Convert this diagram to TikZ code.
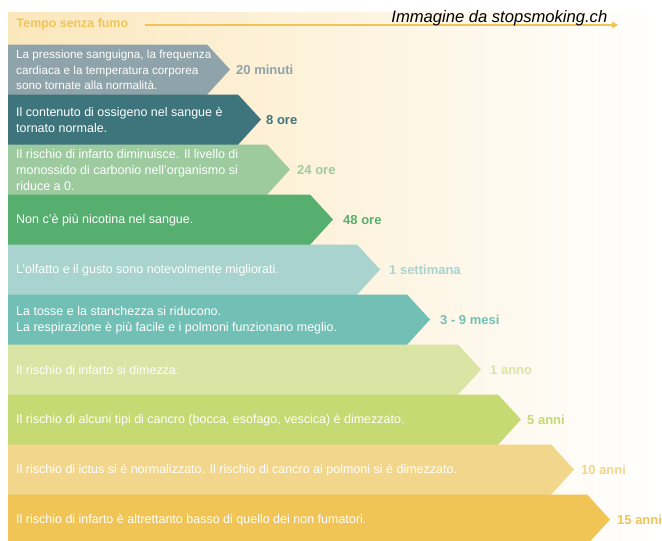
\documentclass[tikz,border=0pt]{standalone}
\usepackage{fontspec}
\setmainfont{Liberation Sans}
\usetikzlibrary{arrows.meta}

% stage colours, from the first minutes to fifteen years
\definecolor{cGray}{HTML}{8FA3AA}
\definecolor{cDeepTeal}{HTML}{3E757C}
\definecolor{cPaleGreen}{HTML}{9DCB9F}
\definecolor{cGreen}{HTML}{56AF6F}
\definecolor{cPaleTeal}{HTML}{A8D3CF}
\definecolor{cTeal}{HTML}{72BFB5}
\definecolor{cPaleLime}{HTML}{D9E4A5}
\definecolor{cLime}{HTML}{C6D973}
\definecolor{cPaleGold}{HTML}{F2D68C}
\definecolor{cGold}{HTML}{F0C455}
\definecolor{cCream}{HTML}{FBE7BC}

% one chevron band: #1 top edge, #2 x where the point starts, #3 colour
\newcommand\chevronband[3]{%
  \fill[#3] (8,#1) -- (#2,#1) -- ({#2+23},{#1+25}) -- (#2,{#1+50.3})
    -- (8,{#1+50.3}) -- cycle;}

\tikzset{
  bandtext/.style={anchor=west, inner sep=0pt, text=white, align=left,
    font=\fontsize{12.5}{15.8}\selectfont},
  smallbandtext/.style={bandtext, font=\fontsize{11.7}{15.5}\selectfont},
  timelabel/.style={anchor=west, inner sep=0pt,
    font=\fontsize{13}{15}\selectfont\bfseries},
}

\begin{document}
\begin{tikzpicture}[x=1pt,y=-1pt]
\useasboundingbox (0,0) rectangle (662,541);
\clip (0,0) rectangle (662,541);

% warm background fading to white
\shade[left color=cCream, right color=white] (8,12) rectangle (662,541);

% time axis
\node[anchor=west, inner sep=0pt, text=cGold,
  font=\fontsize{12.4}{14}\selectfont\bfseries] (tempo) at (16.5,24) {Tempo senza fumo};
\coordinate (axisstart) at (145,25);
\coordinate (axisend) at (618,25);
\draw[cGold, line width=2.2pt, -{Triangle[length=6pt,width=6.5pt]}] (axisstart) -- (axisend);
\node[anchor=base east, inner sep=0pt,
  font=\fontsize{16.6}{18}\selectfont\itshape] (credit) at (607.5,22.5) {Immagine da stopsmoking.ch};

% bands
\chevronband{44.5}{207}{cGray}
\chevronband{94.5}{238}{cDeepTeal}
\chevronband{144.5}{267}{cPaleGreen}
\chevronband{194.5}{310}{cGreen}
\chevronband{244.5}{357}{cPaleTeal}
\chevronband{294.5}{407}{cTeal}
\chevronband{344.5}{458}{cPaleLime}
\chevronband{394.5}{498}{cLime}
\chevronband{444.5}{551}{cPaleGold}
\chevronband{494.5}{587}{cGold}

% band texts
\node[smallbandtext] (t1) at (16,70) {La pressione sanguigna, la frequenza\\cardiaca e la temperatura corporea\\sono tornate alla normalità.};
\node[bandtext] (t2) at (16,120) {Il contenuto di ossigeno nel sangue è\\tornato normale.};
\node[bandtext] (t3) at (16,170) {Il rischio di infarto diminuisce. Il livello di\\monossido di carbonio nell'organismo si\\riduce a 0.};
\node[bandtext] (t4) at (16,220) {Non c'è più nicotina nel sangue.};
\node[bandtext] (t5) at (16,270) {L'olfatto e il gusto sono notevolmente migliorati.};
\node[bandtext] (t6) at (16,320) {La tosse e la stanchezza si riducono.\\La respirazione è più facile e i polmoni funzionano meglio.};
\node[bandtext] (t7) at (16,370) {Il rischio di infarto si dimezza.};
\node[bandtext] (t8) at (16,420) {Il rischio di alcuni tipi di cancro (bocca, esofago, vescica) è dimezzato.};
\node[bandtext] (t9) at (16,470) {Il rischio di ictus si è normalizzato. Il rischio di cancro ai polmoni si è dimezzato.};
\node[bandtext] (t10) at (16,520) {Il rischio di infarto è altrettanto basso di quello dei non fumatori.};

% elapsed times
\node[timelabel, text=cGray] (l1) at (236,70) {20 minuti};
\node[timelabel, text=cDeepTeal] (l2) at (266,120) {8 ore};
\node[timelabel, text=cPaleGreen] (l3) at (297,170) {24 ore};
\node[timelabel, text=cGreen] (l4) at (343,220) {48 ore};
\node[timelabel, text=cPaleTeal] (l5) at (389,270) {1 settimana};
\node[timelabel, text=cTeal] (l6) at (440,320) {3 - 9 mesi};
\node[timelabel, text=cPaleLime] (l7) at (490,370) {1 anno};
\node[timelabel, text=cLime] (l8) at (527,420) {5 anni};
\node[timelabel, text=cPaleGold] (l9) at (581,470) {10 anni};
\node[timelabel, text=cGold] (l10) at (617,520) {15 anni};
\end{tikzpicture}
\end{document}
